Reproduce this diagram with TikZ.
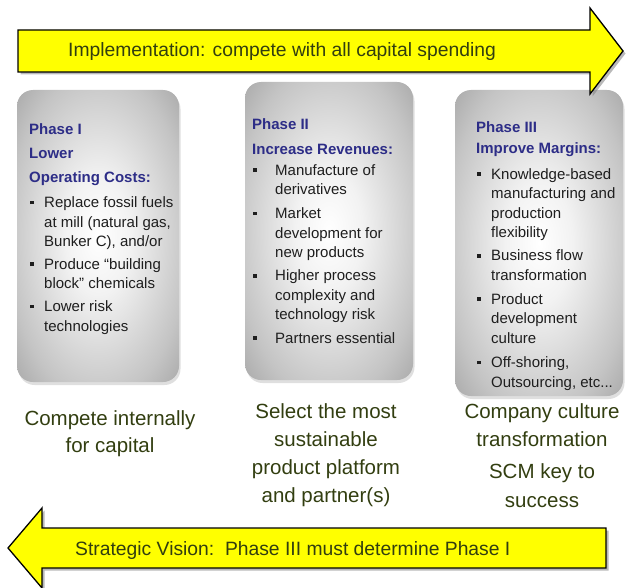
\documentclass[tikz,border=0pt]{standalone}
\usepackage{fontspec}
\setmainfont{Liberation Sans}
\usetikzlibrary{shadows}
\definecolor{arrowyellow}{RGB}{255,255,0}
\definecolor{headblue}{RGB}{45,45,135}
\definecolor{bodytext}{RGB}{30,30,30}
\definecolor{captext}{RGB}{50,62,16}
\definecolor{boxedge}{RGB}{135,135,135}
\definecolor{boxmid}{RGB}{196,196,196}
\definecolor{boxcore}{RGB}{242,242,242}
\pgfdeclareradialshading{boxshade}{\pgfpoint{0bp}{0bp}}{color(0bp)=(white); color(10bp)=(boxcore); color(28bp)=(boxmid); color(46bp)=(boxedge); color(50bp)=(boxedge)}
\newcommand{\bitem}[2]{\makebox[#1][l]{\hspace{1.2pt}\raisebox{3.2pt}{\rule{3.6pt}{3.6pt}}}#2}
\newcommand{\cont}[2]{\hspace*{#1}#2}
\newcommand{\hd}[1]{{\color{headblue}\bfseries #1}}
\tikzset{
  phasebox/.style={rounded corners=16pt, shading=boxshade, draw=none,
    drop shadow={opacity=0.25, shadow xshift=1.5pt, shadow yshift=-3pt}},
  boxtext/.style={inner sep=0pt, anchor=base west, align=left, text=bodytext,
    font=\fontsize{15}{19.6}\selectfont},
  captiontext/.style={inner sep=0pt, anchor=base, align=center, text=captext,
    font=\fontsize{20.5}{28}\selectfont},
  bigarrow/.style={fill=arrowyellow, draw=black, line width=1.3pt, line join=miter,
    drop shadow={opacity=0.55, shadow xshift=2.5pt, shadow yshift=-2.5pt}},
  arrowtext/.style={inner sep=0pt, anchor=base west, text=captext,
    font=\fontsize{19.3}{23}\selectfont}
}
\begin{document}
\begin{tikzpicture}[x=1pt,y=-1pt]
\useasboundingbox (0,0) rectangle (626,588);
% phase boxes
\path[phasebox] (17,90) rectangle (179,382);
\path[phasebox] (245,82) rectangle (413,380);
\path[phasebox] (455,90) rectangle (623,396);
% box texts (anchored at the baseline of the last line)
\node[boxtext] (t1) at (29,331) {%
\hd{Phase I}\\[4.5pt]
\hd{Lower}\\[4.5pt]
\hd{Operating Costs:}\\[5pt]
\bitem{15pt}{Replace fossil fuels}\\
\cont{15pt}{at mill (natural gas,}\\
\cont{15pt}{Bunker C), and/or}\\[3pt]
\bitem{15pt}{Produce “building}\\
\cont{15pt}{block” chemicals}\\[3pt]
\bitem{15pt}{Lower risk}\\
\cont{15pt}{technologies}};
\node[boxtext] (t2) at (252,343) {%
\hd{Phase II}\\[5.5pt]
\hd{Increase Revenues:}\\[1.5pt]
\bitem{23pt}{Manufacture of}\\
\cont{23pt}{derivatives}\\[4pt]
\bitem{23pt}{Market}\\
\cont{23pt}{development for}\\
\cont{23pt}{new products}\\[3.5pt]
\bitem{23pt}{Higher process}\\
\cont{23pt}{complexity and}\\
\cont{23pt}{technology risk}\\[3.5pt]
\bitem{23pt}{Partners essential}};
\node[boxtext] (t3) at (476,387) {%
\hd{Phase III}\\[1.5pt]
\hd{Improve Margins:}\\[6pt]
\bitem{15pt}{Knowledge-based}\\
\cont{15pt}{manufacturing and}\\
\cont{15pt}{production}\\
\cont{15pt}{flexibility}\\[3.5pt]
\bitem{15pt}{Business flow}\\
\cont{15pt}{transformation}\\[4pt]
\bitem{15pt}{Product}\\
\cont{15pt}{development}\\
\cont{15pt}{culture}\\[4.5pt]
\bitem{15pt}{Off-shoring,}\\
\cont{15pt}{Outsourcing, etc...}};
% arrows
\path[bigarrow] (18,30) -- (590,30) -- (590,8) -- (623,51) -- (590,94) -- (590,72) -- (18,72) -- cycle;
\node[arrowtext] (topt) at (68,57) {Implementation: compete with all capital spending};
\path[bigarrow] (606,528) -- (42,528) -- (42,508) -- (8,548) -- (42,588) -- (42,568) -- (606,568) -- cycle;
\node[arrowtext] (bott) at (75,555) {Strategic Vision:\ \ Phase III must determine Phase I};
% captions (anchored at the baseline of the last line)
\node[captiontext] (c1) at (110,452) {Compete internally\\[-1pt]for capital};
\node[captiontext] (c2) at (326,502) {Select the most\\sustainable\\product platform\\and partner(s)};
\node[captiontext] (c3) at (542,507) {Company culture\\transformation\\[4pt]SCM key to\\[1pt]success};
\end{tikzpicture}
\end{document}
